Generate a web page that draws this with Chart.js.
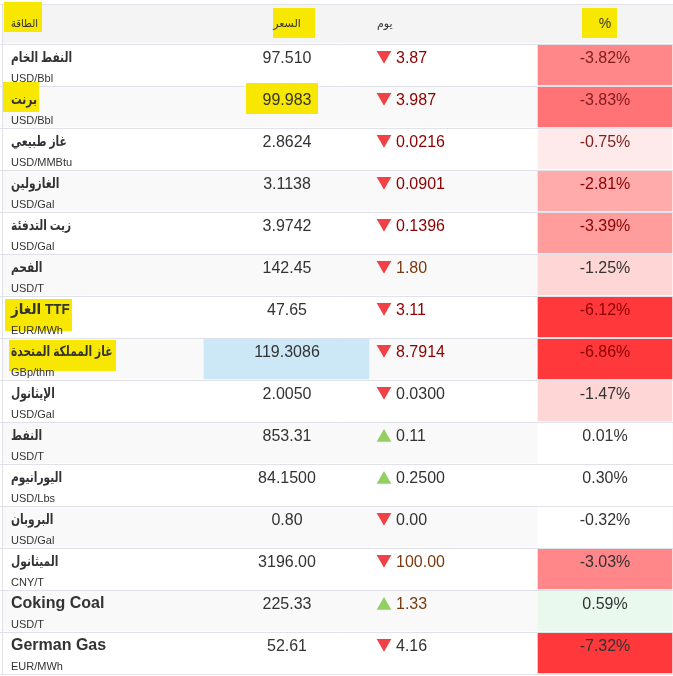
<!DOCTYPE html>
<html><head><meta charset="utf-8">
<style>html,body{margin:0;padding:0;background:#fff}#w{width:673px;height:676px}</style>
<script src="https://cdn.jsdelivr.net/npm/chart.js@4"></script>
</head><body><div id="w"><canvas id="c" width="673" height="676"></canvas></div>
<script>
const headers = ['الطاقة','السعر','يوم','%'];
const names = ['النفط الخام','برنت','غاز طبيعي','الغازولين','زيت التدفئة','الفحم','الغاز TTF','غاز المملكة المتحدة','الإيثانول','النفط','اليورانيوم','البروبان','الميثانول','Coking Coal','German Gas'];
const units = ['USD/Bbl','USD/Bbl','USD/MMBtu','USD/Gal','USD/Gal','USD/T','EUR/MWh','GBp/thm','USD/Gal','USD/T','USD/Lbs','USD/Gal','CNY/T','USD/T','EUR/MWh'];
const prices = ['97.510','99.983','2.8624','3.1138','3.9742','142.45','47.65','119.3086','2.0050','853.31','84.1500','0.80','3196.00','225.33','52.61'];
const changes = ['3.87','3.987','0.0216','0.0901','0.1396','1.80','3.11','8.7914','0.0300','0.11','0.2500','0.00','100.00','1.33','4.16'];
const directions = ['down','down','down','down','down','down','down','down','down','up','up','down','down','up','down'];
const percents = ['-3.82%','-3.83%','-0.75%','-2.81%','-3.39%','-1.25%','-6.12%','-6.86%','-1.47%','0.01%','0.30%','-0.32%','-3.03%','0.59%','-7.32%'];
const percentFills = ['#ff878a','#ff7276','#feeaea','#ffabab','#ff9c9c','#ffd6d6','#ff383c','#ff383c','#ffd6d6','#ffffff','#ffffff','#ffffff','#ff878a','#e9f9ee','#ff383c'];
const changeInk = ['#8b0000','#8b0000','#8b0000','#8b0000','#8b0000','#7a3a10','#8b0000','#8b0000','#333333','#333333','#333333','#333333','#7a3a10','#7a3a10','#333333'];
const percentInk = ['#7f1d1d','#7f1d1d','#7f1d1d','#8b0000','#8b0000','#333333','#8b0000','#8b0000','#333333','#333333','#333333','#333333','#333333','#333333','#333333'];
const highlightedPriceRow = 7;

const UP='#93cf62', DOWN='#f04246', INK='#333333', LINE='#e1e1ea', HIGHLIGHT='#f8e700';
const COL = {left:2, right:673, priceC:287, arrowC:384, changeL:396, pctL:538, pctR:672, pctC:605, nameL:11, blueL:204, blueR:369};
const highlights = [[4,2,42,32],[273,8,315,38],[582,8,617,38],[2,82,39,112],[246,83,318,114],[5,299,72,331],[9,340,116,371]];
const rowY = i => i + 1.5;
const arrowShift = {down:-0.232, up:-0.131};

new Chart(document.getElementById('c'), {
  type:'bar',
  data:{datasets:[
    {type:'scatter',order:0,label:'arrows',
     data:directions.map((d,i)=>({x:COL.arrowC,y:rowY(i)+arrowShift[d]})),
     pointStyle:'triangle',pointRadius:8.5,pointHoverRadius:8.5,
     pointRotation:directions.map(d=>d==='down'?180:0),
     pointBackgroundColor:directions.map(d=>d==='down'?DOWN:UP),
     pointBorderWidth:0},
    {label:'price highlight',order:1,grouped:false,
     data:[{x:[COL.blueL,COL.blueR],y:rowY(highlightedPriceRow)}],backgroundColor:'#cce8f7',barPercentage:1,categoryPercentage:1},
    {label:'percent',order:1,grouped:false,
     data:percents.map((p,i)=>({x:[COL.pctL,COL.pctR],y:rowY(i)})),backgroundColor:percentFills,barPercentage:1,categoryPercentage:1},
    {label:'rows',order:2,grouped:false,
     data:[{x:[COL.left,COL.right],y:0.5}].concat(names.map((n,i)=>({x:[COL.left,COL.right],y:rowY(i)}))),
     backgroundColor:['#f4f4f4'].concat(names.map((n,i)=>i%2?'#f9f9f9':'#ffffff')),barPercentage:1,categoryPercentage:1}
  ]},
  options:{
    indexAxis:'y',responsive:false,animation:false,devicePixelRatio:1,
    layout:{autoPadding:false,padding:{top:4,bottom:2,left:0,right:0}},
    plugins:{legend:{display:false},tooltip:{enabled:false}},
    scales:{
      x:{type:'linear',min:0,max:673,display:false},
      y:{type:'linear',reverse:true,min:2/42,max:16,offset:false,
         ticks:{display:false,stepSize:1},
         border:{display:false},
         grid:{offset:false,color:LINE,lineWidth:1,drawTicks:false,z:1}}
    }
  },
  plugins:[{
    id:'tableText',
    afterDraw(chart){
      const ctx=chart.ctx, y=chart.scales.y;
      ctx.save();
      ctx.fillStyle=HIGHLIGHT;
      highlights.forEach(h=>ctx.fillRect(h[0],h[1],h[2]-h[0],h[3]-h[1]));
      ctx.fillStyle=LINE;
      ctx.fillRect(COL.left,4,1,670);
      const AR='"Liberation Sans","DejaVu Sans",sans-serif';
      const put=(t,x,yy,align,font,color,sx)=>{
        ctx.save();ctx.font=font;ctx.textAlign=align;ctx.textBaseline='middle';ctx.fillStyle=color;
        ctx.translate(x,yy);ctx.scale(sx||1,1);ctx.fillText(t,0,0);ctx.restore();};
      const hy=24;
      put(headers[0],COL.nameL,hy,'left','11px '+AR,INK,0.9);
      put(headers[1],COL.priceC,hy,'center','11px '+AR,INK);
      put(headers[2],377,hy,'left','11px '+AR,INK);
      put(headers[3],COL.pctC,hy,'center','14px '+AR,INK);
      names.forEach((n,i)=>{
        const c=y.getPixelForValue(rowY(i));
        const top=c-6, low=c+14;
        const latin=/^[A-Za-z ]+$/.test(n), mixed=!latin&&/[A-Za-z]/.test(n);
        put(n,COL.nameL,c-7,'left','bold '+(latin?16:mixed?15:14)+'px '+AR,INK,latin?1:mixed?0.9:0.76);
        put(units[i],COL.nameL,low,'left','11px '+AR,INK);
        put(prices[i],COL.priceC,top,'center','16px '+AR,INK);
        put(changes[i],COL.changeL,top,'left','16px '+AR,changeInk[i]);
        put(percents[i],COL.pctC,top,'center','16px '+AR,percentInk[i]);
      });
      ctx.restore();
    }
  }]
});
</script></body></html>
